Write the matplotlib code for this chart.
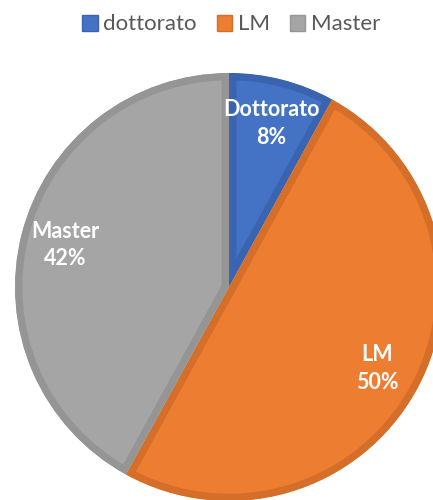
#!/usr/bin/env python3
import matplotlib
matplotlib.use('Agg')
import matplotlib.pyplot as plt
from matplotlib.patches import Patch

plt.rcParams['font.family'] = ['Lato', 'DejaVu Sans']

# data
categories = ['Dottorato', 'LM', 'Master']
legend_labels = ['dottorato', 'LM', 'Master']
values = [8, 50, 42]
colors = ['#4472C4', '#ED7D31', '#A5A5A5']
edge_colors = ['#3B64B0', '#D56E29', '#959595']

fig = plt.figure(figsize=(4.33, 5.0), dpi=100)
# square axes so that the pie is centred where the reference has it
ax = fig.add_axes([0.0346, -0.002, 0.9885, 0.856])

names = iter(categories)
wedges, texts, autotexts = ax.pie(
    values, colors=colors, startangle=90, counterclock=False,
    autopct=lambda p: '%s\n%.0f%%' % (next(names), p),
    pctdistance=0.79, radius=1.0,
    wedgeprops=dict(linewidth=10.5),
    textprops=dict(color='white', fontsize=15.5, fontweight='bold'))

for w, ec in zip(wedges, edge_colors):
    w.set_edgecolor(ec)
    w.set_clip_on(True)
    w.set_clip_path(w)   # keep only the inner half of the border
for t in autotexts:
    t.set_linespacing(1.4)

ax.set_xlim(-1, 1)
ax.set_ylim(-1, 1)
ax.set_aspect('equal')
ax.axis('off')

handles = [Patch(facecolor=c, edgecolor=ec) for c, ec in zip(colors, edge_colors)]
leg = fig.legend(handles, legend_labels, loc='center', bbox_to_anchor=(0.534, 0.951),
                 ncol=3, frameon=False, fontsize=16, handlelength=0.7, handleheight=0.7,
                 handletextpad=0.25, columnspacing=0.9, labelcolor='#595959')

fig.savefig('out.png', dpi=100)
